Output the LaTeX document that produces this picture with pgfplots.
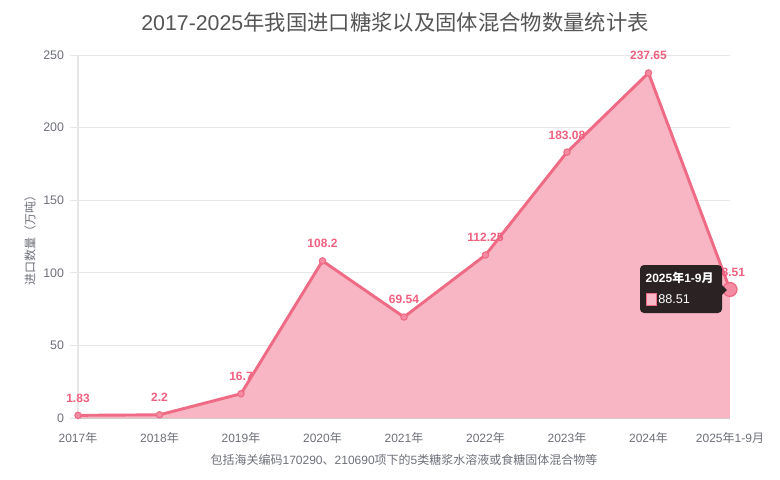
\documentclass[border=0pt]{standalone}
\usepackage{fontspec}
\setmainfont{Liberation Sans}
\newfontfamily\cjkf{Noto Sans CJK SC}
\newcommand\cj[1]{{\cjkf #1}}
\usepackage{pgfplots}
\pgfplotsset{compat=1.18}
\usepackage{pgfplotstable}
\definecolor{lineC}{HTML}{EE6A85}
\definecolor{fillC}{HTML}{F8B6C4}
\definecolor{markC}{HTML}{F48CA3}
\definecolor{labC}{HTML}{F0607F}
\definecolor{gridC}{HTML}{E6E6E6}
\definecolor{axC}{HTML}{CCCCCC}
\definecolor{tickC}{HTML}{6E7079}
\definecolor{titleC}{HTML}{555555}
\definecolor{tipC}{HTML}{2B2224}
\pgfplotstableread{
x y lab
0 1.83 1.83
1 2.2 2.2
2 16.7 16.7
3 108.2 108.2
4 69.54 69.54
5 112.25 112.25
6 183.08 183.08
7 237.65 237.65
8 88.51 88.51
}\data
\begin{document}
\begin{tikzpicture}
\path[use as bounding box] (-58.5pt,-45.75pt) rectangle (526.5pt,313.5pt);
\begin{axis}[
  scale only axis, width=489pt, height=272.25pt,
  xmin=0, xmax=8, ymin=0, ymax=250,
  axis lines*=left,
  x axis line style={draw=axC, line width=0.75pt},
  y axis line style={draw=gridC, line width=0.75pt},
  ymajorgrids, grid style={draw=gridC, line width=0.75pt},
  ytick={0,50,100,150,200,250},
  ytick style={draw=gridC, line width=0.75pt},
  xtick style={draw=none},
  tick align=outside, major tick length=6pt,
  xtick={0,...,8},
  xticklabels={2017\cj{年},2018\cj{年},2019\cj{年},2020\cj{年},2021\cj{年},2022\cj{年},2023\cj{年},2024\cj{年},2025\cj{年}1-9\cj{月}},
  xticklabel style={font=\fontsize{9}{10}\selectfont, text=tickC, yshift=-1pt},
  yticklabel style={font=\fontsize{9.3}{10}\selectfont, text=tickC, xshift=-1pt},
  /pgf/number format/assume math mode=true,
  clip=false,
]
\addplot[fill=fillC, draw=none] table[x=x,y=y]{\data} \closedcycle;
\addplot[lineC, line width=2.2pt, mark=*, mark size=2.4pt,
  mark options={fill=markC, draw=lineC, line width=0.8pt},
  nodes near coords, point meta=explicit symbolic,
  every node near coord/.append style={font=\bfseries\fontsize{9}{10}\selectfont, text=labC, anchor=south, yshift=6pt}]
  table[x=x,y=y,meta=lab]{\data};
\addplot[only marks, mark=*, mark size=5.2pt, mark options={fill=markC, draw=lineC, line width=1pt}] coordinates {(8,88.51)};
\end{axis}
% title and labels
\node[font=\fontsize{16}{18}\selectfont, text=titleC] at (237.75pt,297pt) {2017-2025\cj{年我国进口糖浆以及固体混合物数量统计表}};
\node[font=\fontsize{9}{10}\selectfont, text=tickC, rotate=90] at (-36pt,135.75pt) {\cj{进口数量（万吨）}};
\node[font=\fontsize{9}{10}\selectfont, text=tickC] at (244.5pt,-31.5pt) {\cj{包括海关编码}170290\cj{、}210690\cj{项下的}5\cj{类糖浆水溶液或食糖固体混合物等}};
% tooltip
\fill[tipC, rounded corners=3pt] (421.5pt,78.75pt) rectangle (483pt,114.75pt);
\fill[tipC] (482pt,100.5pt) -- (486.75pt,96pt) -- (482pt,91.5pt) -- cycle;
\node[anchor=west, text=white, font=\bfseries\fontsize{9}{10}\selectfont, inner sep=0pt] at (425.5pt,105pt) {2025\cj{年}1-9\cj{月}};
\filldraw[fill=markC!60!white, draw=lineC, line width=0.6pt] (426pt,84.75pt) rectangle (433.5pt,93.75pt);
\node[anchor=west, text=white, font=\fontsize{9.5}{10}\selectfont, inner sep=0pt] at (435pt,89.25pt) {88.51};
\end{tikzpicture}
\end{document}
